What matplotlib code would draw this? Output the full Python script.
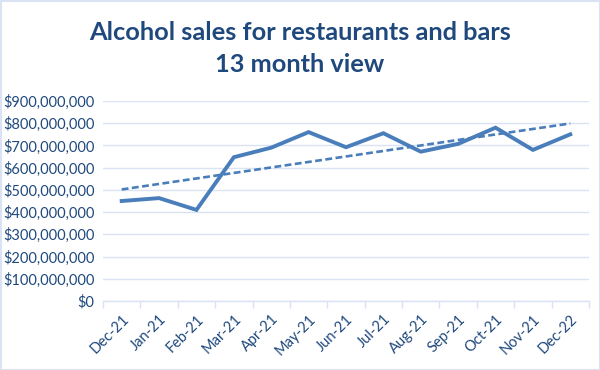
import matplotlib
matplotlib.use("Agg")
import matplotlib.pyplot as plt
import numpy as np
from matplotlib.ticker import FuncFormatter, FixedLocator
from matplotlib.patches import Rectangle

months = ["Dec-21", "Jan-21", "Feb-21", "Mar-21", "Apr-21", "May-21", "Jun-21",
          "Jul-21", "Aug-21", "Sep-21", "Oct-21", "Nov-21", "Dec-22"]
sales = [450e6, 463e6, 410e6, 647e6, 690e6, 760e6, 692e6,
         755e6, 672e6, 707e6, 780e6, 680e6, 750e6]
title_lines = ["Alcohol sales for restaurants and bars", "13 month view"]

plt.rcParams['font.family'] = ['Lato', 'DejaVu Sans']

fig = plt.figure(figsize=(6, 3.7), dpi=100)
ax = fig.add_axes([103/600, 1-301/370, 486/600, 200/370])

x = np.arange(len(months))
ax.plot(x, sales, color="#4A7EBB", lw=2.8, solid_joinstyle="miter", zorder=3)
coef = np.polyfit(x, sales, 1)
ax.plot(x, np.polyval(coef, x), color="#4A7EBB", lw=1.9, ls=(0, (2.6, 1.3)), zorder=3)

ax.set_xlim(-0.5, len(months) - 0.5)
ax.set_ylim(0, 900e6)
ax.set_yticks(np.arange(0, 900e6 + 1, 100e6))
ax.yaxis.set_major_formatter(FuncFormatter(lambda v, p: "${:,.0f}".format(v)))
ax.grid(axis="y", color="#D9E3F3", lw=1)
ax.set_axisbelow(True)
for s in ["top", "right", "left"]:
    ax.spines[s].set_visible(False)
ax.spines["bottom"].set_color("#D9E3F3")
ax.spines["bottom"].set_linewidth(1)

ax.set_xticks(x)
ax.set_xticklabels(months, rotation=45, ha="right", rotation_mode="anchor")
ax.xaxis.set_minor_locator(FixedLocator(np.arange(-0.5, len(months), 1)))
ax.tick_params(axis="x", which="major", length=0, pad=8, labelsize=10.5, labelcolor="#1F497D")
ax.tick_params(axis="x", which="minor", length=5, color="#D9E3F3", width=1)
ax.tick_params(axis="y", length=0, pad=6, labelsize=10.5, labelcolor="#1F497D")

for line, yb in zip(title_lines, [40, 72]):
    fig.text(0.5, 1 - yb/370, line, ha="center", va="baseline",
             fontsize=18.3, fontweight="bold", color="#1F497D")

fig.patches.append(Rectangle((0.5/600, 0.5/370), 599/600, 369/370, transform=fig.transFigure,
                             fill=False, edgecolor="#D9E3F3", lw=1.5))

fig.savefig("out.png", dpi=100)
